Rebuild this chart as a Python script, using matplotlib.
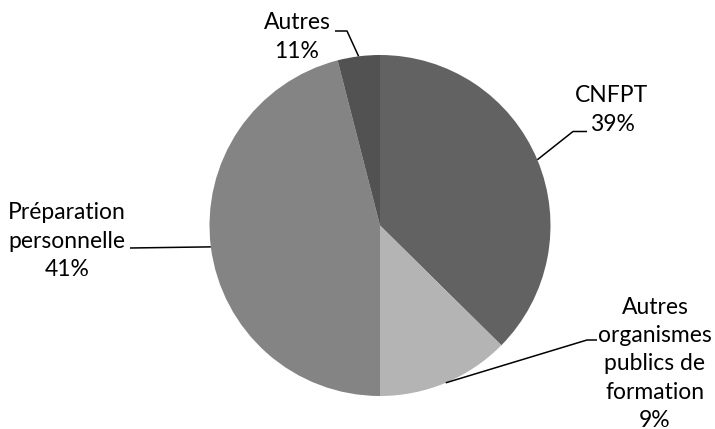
import numpy as np
import matplotlib
matplotlib.use("Agg")
import matplotlib.pyplot as plt

categories = ["CNFPT", "Autres organismes publics de formation",
              "Préparation personnelle", "Autres"]
sizes = [37.4, 12.6, 46.0, 4.0]
# Percentages as printed on the labels
label_pct = ["39%", "9%", "41%", "11%"]
label_text = ["CNFPT\n39%",
              "Autres\norganismes\npublics de\nformation\n9%",
              "Préparation\npersonnelle\n41%",
              "Autres\n11%"]
colors = ["#626262", "#b4b4b4", "#848484", "#525252"]

W, H = 715, 429
cx, cy, r = 380, H - 225.5, 170.5

# label centre (pixels, y down) and leader elbow (x start, x end, y)
label_pos = [(612, 110), (655, 364), (67, 241), (297, 37)]
elbows = [(587, 573, 131.5), (597, 587, 340), (130, 130, 248), (335, 347, 31)]

plt.rcParams['font.family'] = ['Lato', 'DejaVu Sans']

fig = plt.figure(figsize=(W / 100, H / 100), dpi=100)
ax = fig.add_axes([0, 0, 1, 1])

wedges, _ = ax.pie(sizes, colors=colors, startangle=90, counterclock=False,
                   center=(cx, cy), radius=r, frame=True,
                   wedgeprops=dict(linewidth=0))
ax.set_xlim(0, W)
ax.set_ylim(0, H)
ax.set_aspect('equal')
ax.axis('off')

for w, txt, (lx, ly), (ex0, ex1, ey) in zip(wedges, label_text, label_pos, elbows):
    mid = np.deg2rad((w.theta1 + w.theta2) / 2)
    px, py = cx + r * np.cos(mid), cy + r * np.sin(mid)
    ax.plot([ex0, ex1, px], [H - ey, H - ey, py], color='black', lw=1.1,
            solid_capstyle='butt')
    ax.text(lx, H - ly, txt, ha='center', va='center', fontsize=16.5,
            linespacing=1.43, color='black')

fig.savefig("out.png", dpi=100)
